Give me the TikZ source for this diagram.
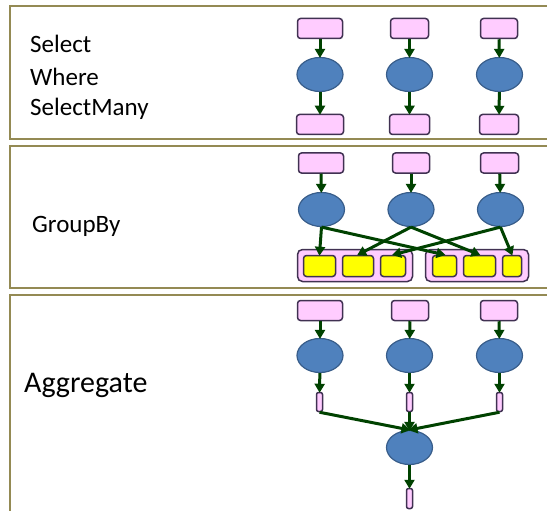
\documentclass[tikz,border=0pt]{standalone}
\usepackage{fontspec}
\setmainfont{Carlito}
\usetikzlibrary{shapes.geometric,arrows.meta}
\definecolor{olive}{RGB}{148,138,84}
\definecolor{pinkfill}{RGB}{255,204,255}
\definecolor{purpleline}{RGB}{64,49,82}
\definecolor{bluefill}{RGB}{79,129,189}
\definecolor{blueline}{RGB}{56,93,138}
\definecolor{arrowgreen}{RGB}{0,66,0}
\definecolor{yel}{RGB}{255,255,0}
\tikzset{
  panel/.style={draw=olive,line width=2pt},
  item/.style={draw=purpleline,fill=pinkfill,line width=1.5pt,rounded corners=3pt,minimum height=20pt,inner sep=0pt},
  thin/.style={draw=purpleline,fill=pinkfill,line width=1.5pt,rounded corners=2pt,minimum width=6pt,minimum height=19pt,inner sep=0pt},
  op/.style={ellipse,draw=blueline,fill=bluefill,line width=1.2pt,minimum width=46pt,minimum height=34pt,inner sep=0pt},
  grp/.style={draw=purpleline,fill=pinkfill,line width=1.5pt,rounded corners=5pt,minimum height=32pt,inner sep=0pt},
  yb/.style={draw=purpleline,fill=yel,line width=1.5pt,rounded corners=3pt,minimum height=21pt,inner sep=0pt},
  flow/.style={draw=arrowgreen,line width=3pt,-{Triangle[length=9pt,width=10pt]},shorten >=-1pt},
  lbl/.style={font=\fontsize{25}{30}\selectfont,anchor=base west,inner sep=0pt},
  biglbl/.style={font=\fontsize{30}{36}\selectfont,anchor=base west,inner sep=0pt}
}
\begin{document}
\begin{tikzpicture}[x=1pt,y=-1pt]
\useasboundingbox (0,0) rectangle (547,511);
\clip (0,0) rectangle (547,511);
% panels
\draw[panel] (9.5,6.5) rectangle (600,139.5);
\draw[panel] (9.5,146.5) rectangle (600,287.5);
\draw[panel] (9.5,294.5) rectangle (600,560);
% labels
\node[lbl] (tselect) at (30,53) {Select};
\node[lbl] (twhere) at (30,85) {Where};
\node[lbl] (tmany) at (30,116) {SelectMany};
\node[lbl] (tgroup) at (32,233) {GroupBy};
\node[biglbl] (tagg) at (24,392) {Aggregate};
% panel 1
\node[item,minimum width=45pt] (a1) at (320,28.5) {};
\node[item,minimum width=38pt] (a2) at (409.5,28.5) {};
\node[item,minimum width=37pt] (a3) at (499,28.5) {};
\node[op] (e1) at (320,74.5) {};
\node[op] (e2) at (409.5,74.5) {};
\node[op] (e3) at (499.5,74.5) {};
\node[item,minimum width=47pt] (b1) at (320,124.5) {};
\node[item,minimum width=40pt] (b2) at (409.5,124.5) {};
\node[item,minimum width=39pt] (b3) at (499,124.5) {};
\draw[flow] (a1) -- (e1);
\draw[flow] (a2) -- (e2);
\draw[flow] (a3) -- (e3);
\draw[flow] (e1) -- (b1);
\draw[flow] (e2) -- (b2);
\draw[flow] (e3) -- (b3);
% panel 2
\node[item,minimum width=45pt] (c1) at (321,163) {};
\node[item,minimum width=37pt] (c2) at (411,163) {};
\node[item,minimum width=38pt] (c3) at (499.5,163) {};
\node[op] (f1) at (321.5,209.5) {};
\node[op] (f2) at (411,209.5) {};
\node[op] (f3) at (500.5,209.5) {};
\node[grp,minimum width=115pt] (g1) at (355,265.5) {};
\node[grp,minimum width=103pt] (g2) at (477,265.5) {};
\node[yb,minimum width=32pt] (y1) at (319.5,266) {};
\node[yb,minimum width=31pt] (y2) at (358,266) {};
\node[yb,minimum width=25pt] (y3) at (393,266) {};
\node[yb,minimum width=24pt] (y4) at (444.5,266) {};
\node[yb,minimum width=32pt] (y5) at (479.5,266) {};
\node[yb,minimum width=19pt] (y6) at (512,266) {};
\draw[flow] (c1) -- (f1);
\draw[flow] (c2) -- (f2);
\draw[flow] (c3) -- (f3);
\draw[flow] (f1.south) -- (y1.north);
\draw[flow] (f1.south) -- (y4.north);
\draw[flow] (f2.south) -- (y2.north);
\draw[flow] (f2.south) -- (y5.north);
\draw[flow] (f3.south) -- (y3.north);
\draw[flow] (f3.south) -- (y6.north);
% panel 3
\node[item,minimum width=45pt] (h1) at (320,310.5) {};
\node[item,minimum width=37pt] (h2) at (410,310.5) {};
\node[item,minimum width=37pt] (h3) at (499,310.5) {};
\node[op] (k1) at (320,355.5) {};
\node[op] (k2) at (409.5,355.5) {};
\node[op] (k3) at (499.5,355.5) {};
\node[thin] (s1) at (319.5,402) {};
\node[thin] (s2) at (409.5,402) {};
\node[thin] (s3) at (499.5,402) {};
\node[op] (m) at (409.5,447.5) {};
\node[thin,minimum height=20pt] (t) at (409.5,498.5) {};
\draw[flow] (h1) -- (k1);
\draw[flow] (h2) -- (k2);
\draw[flow] (h3) -- (k3);
\draw[flow] (k1) -- (s1);
\draw[flow] (k2) -- (s2);
\draw[flow] (k3) -- (s3);
\draw[flow] (s1.south) -- (m.north);
\draw[flow] (s2.south) -- (m.north);
\draw[flow] (s3.south) -- (m.north);
\draw[flow] (m) -- (t);
\end{tikzpicture}
\end{document}
